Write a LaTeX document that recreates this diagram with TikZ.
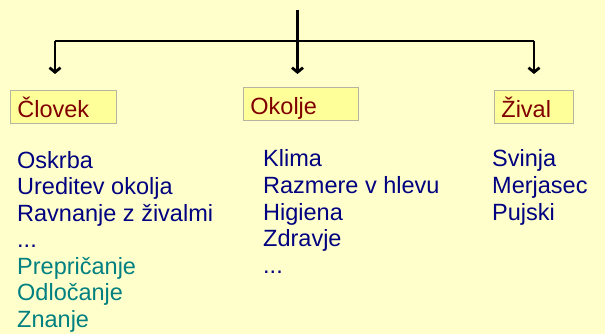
\documentclass[tikz,border=0pt]{standalone}
\usepackage{fontspec}
\setmainfont{Liberation Sans}
\usetikzlibrary{arrows.meta}
\definecolor{bg}{RGB}{255,255,204}
\definecolor{boxfill}{RGB}{255,255,153}
\definecolor{boxline}{RGB}{180,180,160}
\definecolor{navy}{RGB}{0,0,128}
\definecolor{tealc}{RGB}{0,128,128}
\definecolor{maroonc}{RGB}{128,0,0}
\begin{document}
\begin{tikzpicture}[x=1pt,y=-1pt,
  conn/.style={line width=2.8pt,black},
  arr/.style={conn,-{Straight Barb[length=4.5pt,width=11pt]}},
  catbox/.style={draw=boxline,line width=0.8pt,fill=boxfill,anchor=north west,
    inner ysep=0pt,inner xsep=7pt,text height=27pt,text depth=6pt,align=left,
    text=maroonc,font=\fontsize{23.5}{26.5}\selectfont},
  item/.style={anchor=base west,inner sep=0pt,text=navy,font=\fontsize{23.5}{26.5}\selectfont},
  itemt/.style={item,text=tealc}]
\fill[bg] (0,0) rectangle (605,334);
\useasboundingbox (0,0) rectangle (605,334);
% connectors
\coordinate (top) at (297.5,10);
\coordinate (jl) at (55,41);
\coordinate (jr) at (534,41);
\coordinate (el) at (55,74);
\coordinate (ec) at (297.5,74);
\coordinate (er) at (534,74);
\draw[conn] (jl) -- (jr);
\draw[arr] (top) -- (ec);
\draw[arr] (jl) -- (el);
\draw[arr] (jr) -- (er);
% category boxes
\node[catbox,text width=92pt] (clovek) at (10,90) {Človek};
\node[catbox,text width=101pt] (okolje) at (243,87) {Okolje};
\node[catbox,text width=65pt] (zival) at (494,90) {Žival};
% lists
\node[item] (c1) at (17,168) {Oskrba};
\node[item] (c2) at (17,194.5) {Ureditev okolja};
\node[item] (c3) at (17,221) {Ravnanje z živalmi};
\node[item] (c4) at (17,247.5) {...};
\node[itemt] (c5) at (17,274) {Prepričanje};
\node[itemt] (c6) at (17,300.5) {Odločanje};
\node[itemt] (c7) at (17,327) {Znanje};
\node[item] (o1) at (263,167) {Klima};
\node[item] (o2) at (263,193.5) {Razmere v hlevu};
\node[item] (o3) at (263,220) {Higiena};
\node[item] (o4) at (263,246.5) {Zdravje};
\node[item] (o5) at (263,273) {...};
\node[item] (z1) at (492,167) {Svinja};
\node[item] (z2) at (492,193.5) {Merjasec};
\node[item] (z3) at (492,220) {Pujski};
\end{tikzpicture}
\end{document}
